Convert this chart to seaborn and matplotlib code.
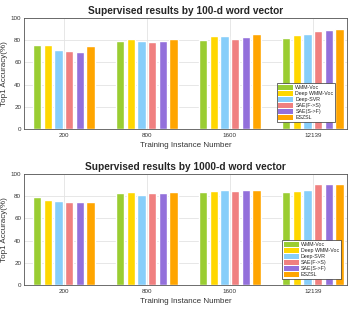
"""Supervised results bar charts for 100-d and 1000-d word vectors"""
import matplotlib
matplotlib.use("Agg")
import matplotlib.pyplot as plt
from matplotlib.patches import Patch
import seaborn as sns
import pandas as pd

instances = ["200", "800", "1600", "12139"]
methods = ["WMM-Voc", "Deep WMM-Voc", "Deep-SVR", "SAE(F->S)", "SAE(S->F)", "ESZSL"]
colors = ["#9ACD32", "#FFD700", "#87CEFA", "#F08080", "#9370DB", "#FFA500"]

# accuracy per method, one value per training instance number
acc_100 = {
    "WMM-Voc": [75.5, 79.5, 80.0, 82.0],
    "Deep WMM-Voc": [76.0, 81.0, 84.0, 85.0],
    "Deep-SVR": [71.5, 79.0, 83.5, 85.5],
    "SAE(F->S)": [70.0, 78.0, 81.0, 88.0],
    "SAE(S->F)": [69.5, 79.0, 82.5, 89.0],
    "ESZSL": [75.0, 81.0, 85.5, 90.0],
}
acc_1000 = {
    "WMM-Voc": [79.5, 83.0, 83.5, 84.0],
    "Deep WMM-Voc": [76.5, 83.5, 84.5, 84.5],
    "Deep-SVR": [76.0, 81.0, 86.0, 85.5],
    "SAE(F->S)": [75.0, 83.0, 85.0, 91.0],
    "SAE(S->F)": [74.5, 83.0, 85.5, 91.0],
    "ESZSL": [75.0, 84.0, 86.0, 91.0],
}


def to_long(acc):
    rows = []
    for m in methods:
        for inst, v in zip(instances, acc[m]):
            rows.append({"Instance": inst, "Method": m, "Accuracy": v})
    return pd.DataFrame(rows)


sns.set_style("whitegrid")
plt.rcParams["font.family"] = ["Liberation Sans", "DejaVu Sans"]

fig = plt.figure(figsize=(3.51, 3.09), dpi=100)
ax1 = fig.add_axes([24 / 351, 1 - 129 / 309, 323 / 351, 111 / 309])
ax2 = fig.add_axes([24 / 351, 1 - 285 / 309, 323 / 351, 111 / 309])

panels = [
    (ax1, acc_100, "Supervised results by 100-d word vector", (0.783, 0.063, 0.18, 0.36)),
    (ax2, acc_1000, "Supervised results by 1000-d word vector", (0.80, 0.054, 0.18, 0.36)),
]

handles = [Patch(facecolor=c, edgecolor="none") for c in colors]

for ax, acc, title, lbox in panels:
    df = to_long(acc)
    sns.barplot(data=df, x="Instance", y="Accuracy", hue="Method",
                order=instances, hue_order=methods, palette=colors,
                width=0.77, gap=0.22, saturation=1, errorbar=None,
                legend=False, ax=ax)
    ax.set_ylim(0, 100)
    ax.set_xlim(-0.48, 3.41)
    ax.set_yticks([0, 20, 40, 60, 80, 100])
    ax.set_title(title, fontsize=7.3, fontweight="bold", pad=3)
    ax.set_xlabel("Training Instance Number", fontsize=5.8, color="#333333", labelpad=2.5)
    ax.set_ylabel("Top1 Accuracy(%)", fontsize=5.8, color="#333333", labelpad=2)
    ax.tick_params(axis="both", labelsize=4.5, length=2, direction="in", pad=2, colors="#333333")
    ax.tick_params(axis="x", pad=3)
    ax.grid(True, color="#e3e3e3", linewidth=0.6)
    ax.set_axisbelow(True)
    for s in ax.spines.values():
        s.set_edgecolor("#555555")
        s.set_linewidth(0.6)
    leg = ax.legend(handles, methods, loc="lower left", bbox_to_anchor=lbox, mode="expand",
                    fontsize=3.8, frameon=True, fancybox=False,
                    handlelength=2.8, handleheight=1.3, handletextpad=0.4,
                    labelspacing=0.05, borderpad=0.3, borderaxespad=0)
    leg.get_frame().set_edgecolor("#333333")
    leg.get_frame().set_linewidth(0.5)
    leg.get_frame().set_alpha(1)

fig.savefig("out.png", dpi=100)
